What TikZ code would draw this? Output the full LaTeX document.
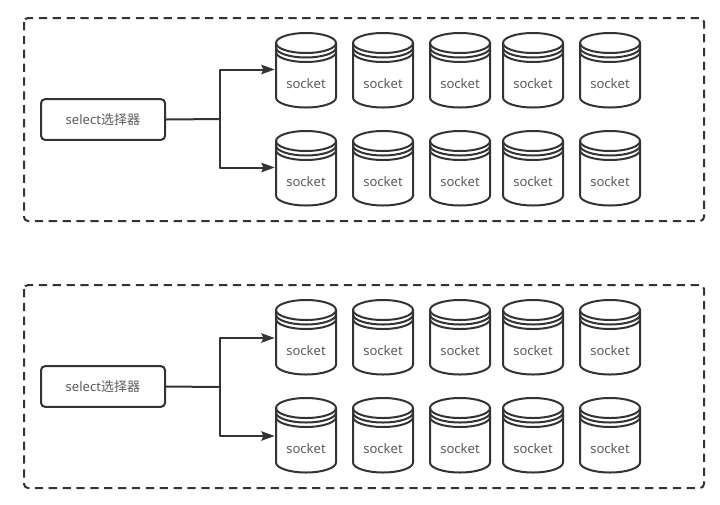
\documentclass[tikz,border=0pt]{standalone}
\usepackage{fontspec}
\setmainfont{Noto Sans}
\newfontfamily\cjkfont{Noto Sans CJK SC}
\usetikzlibrary{arrows.meta,calc}
\definecolor{ink}{HTML}{333333}
\tikzset{
  x=0.75pt, y=-0.75pt,
  every picture/.style={line join=round},
  frame/.style={draw=ink, line width=1.5pt, dash pattern=on 6.2pt off 4.2pt, rounded corners=3pt},
  selector/.style={draw=ink, line width=1.5pt, rounded corners=3pt, minimum width=93pt, minimum height=30.5pt, inner sep=0pt, font=\fontsize{9.8pt}{11pt}\selectfont, text=ink!80},
  socketbody/.style={minimum width=45pt, minimum height=55.5pt, inner sep=0pt},
  cylline/.style={draw=ink, line width=1.5pt},
  link/.style={draw=ink, line width=1.5pt},
  arrowlink/.style={link, -{Stealth[length=10pt, width=7pt, inset=1.5pt]}},
}
% A stacked-disc cylinder with its label; #1 = node name, #2,#3 = top-left corner
\newcommand{\sockcyl}[3]{%
  \node[socketbody] (#1) at (#2+30,#3+36.5) {};
  \begin{scope}[shift={(#2+30,#3+10)}]
    \draw[cylline, fill=white] (-30,0) arc[start angle=180, end angle=360, x radius=30, y radius=10]
      -- (30,54.5) arc[start angle=0, end angle=180, x radius=30, y radius=10] -- cycle;
    \draw[cylline] (-30,0) arc[start angle=180, end angle=0, x radius=30, y radius=10];
    \draw[cylline] (-30,4.5) arc[start angle=180, end angle=0, x radius=30, y radius=10];
    \draw[cylline] (-30,9) arc[start angle=180, end angle=0, x radius=30, y radius=10];
  \end{scope}
  \node[font=\fontsize{9.8pt}{11pt}\selectfont, text=ink!80, inner sep=0pt] (#1-label) at (#2+30,#3+50.5) {socket};
}
% One dashed group: selector on the left, two rows of five cylinders on the right
% #1 = prefix, #2 = y offset, #3 = arrow level shift, #4 = stem level shift
\newcommand{\sockgroup}[4]{%
  \draw[frame] (24,18+#2) rectangle (704,221+#2);
  \node[selector] (#1sel) at (103,119.5+#2) {select{\cjkfont 选择器}};
  \foreach \i/\cx in {1/276,2/353,3/430,4/503,5/580} {
    \sockcyl{#1a\i}{\cx}{33+#2}
    \sockcyl{#1b\i}{\cx}{131+#2}
  }
  \coordinate (#1fork) at ($(#1sel.east)+(54,#4)$);
  \coordinate (#1ta) at ($(#1a1.west)+(-1,#3)$);
  \coordinate (#1tb) at ($(#1b1.west)+(-1,#3)$);
  \draw[link] (#1sel.east) -- (#1fork);
  \draw[arrowlink] (#1fork) |- (#1ta);
  \draw[arrowlink] (#1fork) |- (#1tb);
}
\begin{document}
\begin{tikzpicture}
  \useasboundingbox (0,0) rectangle (720,504);
  \fill[white] (0,0) rectangle (720,504);
  \sockgroup{u}{0}{0}{-0.5}
  \sockgroup{l}{267}{1.5}{0.5}
\end{tikzpicture}
\end{document}
